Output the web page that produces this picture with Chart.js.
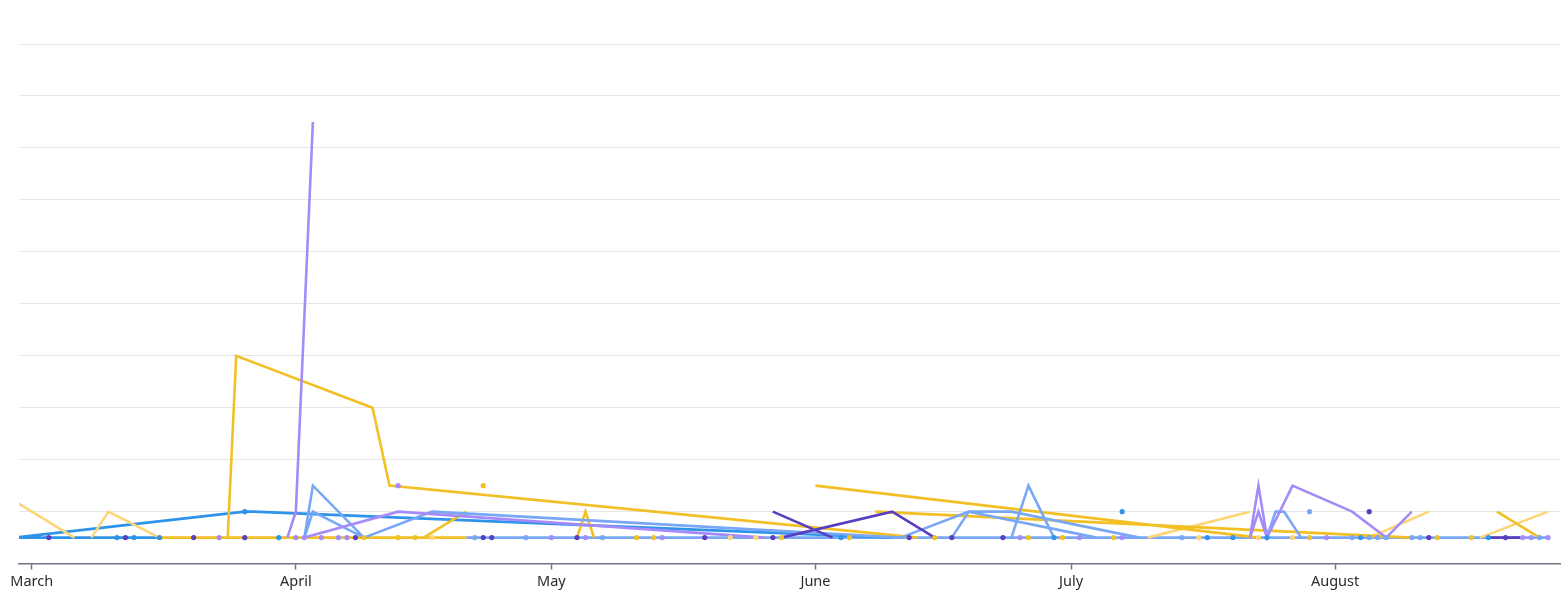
<!DOCTYPE html>
<html>
<head>
<meta charset="utf-8">
<script src="https://cdn.jsdelivr.net/npm/chart.js@4.4.0/dist/chart.umd.min.js"></script>
<style>
  html, body { margin: 0; padding: 0; background: #fff; }
  #wrap { width: 1568px; height: 595px; }
</style>
</head>
<body>
<div id="wrap"><canvas id="chart"></canvas></div>
<script>
// x = days counted from March 1
const monthStarts = [0, 31, 61, 92, 122, 153];
const monthNames = ['March', 'April', 'May', 'June', 'July', 'August'];

// line runs, a null value breaks the line
const amberDays   = [15, 23, 39, 51, 51,  23, 24, 40, 42, 104, 104,  46, 51, 51,  64, 65, 66, 66,  92, 144, 144,  99, 162, 162,  172, 177];
const amberValues = [0, 0, 0, 0, null,  0, 7, 5, 2, 0, null,  0, 1, null,  0, 1, 0, null,  2, 0, null,  1, 0, null,  1, 0];
const amberDotDays   = [53, 39, 43, 45, 71, 73, 88, 96, 106, 117, 121, 127, 150, 165, 169];
const amberDotValues = [2, 0, 0, 0, 0, 0, 0, 0, 0, 0, 0, 0, 0, 0, 0];

const lightAmberDays   = [-5, 5, 5,  7, 9, 15, 15,  131, 143, 143,  157, 164, 164,  170, 178];
const lightAmberValues = [2, 0, null,  0, 1, 0, null,  0, 1, null,  0, 1, null,  0, 1];
const lightAmberDotDays   = [47, 82, 85, 137, 144, 148];
const lightAmberDotValues = [0, 0, 0, 0, 0, 0];

const violetDays   = [87, 94, 94,  88, 101, 106, 106,  171, 173, 175];
const violetValues = [1, 0, null,  0, 1, 0, null,  0, 0, 0];
const violetDotDays   = [157, 2, 11, 19, 25, 38, 53, 54, 64, 79, 87, 103, 108, 114, 164, 173];
const violetDotValues = [1, 0, 0, 0, 0, 0, 0, 0, 0, 0, 0, 0, 0, 0, 0, 0];

const lavenderDays   = [30, 31, 33, 33,  32, 43, 86, 86,  143, 144, 145, 145,  143, 144, 145, 148, 155, 159, 162];
const lavenderValues = [0, 1, 16, null,  0, 1, 0, null,  0, 2, 0, null,  0, 1, 0, 2, 1, 0, 1];
const lavenderDotDays   = [43, 22, 31, 32, 34, 36, 37, 61, 65, 74, 116, 123, 128, 152, 175, 176, 178];
const lavenderDotValues = [2, 0, 0, 0, 0, 0, 0, 0, 0, 0, 0, 0, 0, 0, 0, 0, 0];

const skyDays   = [32, 33, 39, 39,  32, 33, 39, 47, 102, 102,  102, 110, 115, 130, 130,  108, 110, 125, 125,  115, 117, 120, 120,  145, 146, 147, 149];
const skyValues = [0, 2, 0, null,  0, 1, 0, 1, 0, null,  0, 1, 1, 0, null,  0, 1, 0, null,  0, 2, 0, null,  0, 1, 1, 0];
const skyBaseDays   = [51, 178];
const skyBaseValues = [0, 0];
const skyDotDays   = [150, 52, 58, 67, 135, 155, 157, 158, 159, 162, 163, 177];
const skyDotValues = [1, 0, 0, 0, 0, 0, 0, 0, 0, 0, 0, 0];

const blueDays   = [-2, 25, 26, 101, 101,  -2, 15];
const blueValues = [0, 1, 1, 0, null,  0, 0];
const blueDotDays   = [25, 128, 10, 12, 15, 29, 95, 120, 138, 141, 145, 156, 171];
const blueDotValues = [1, 1, 0, 0, 0, 0, 0, 0, 0, 0, 0, 0, 0];

const AMBER = '#f2bf24', LIGHT_AMBER = '#fcd577', VIOLET = '#5a3ebf',
      LAVENDER = '#a58af9', SKY = '#78a7f5', BLUE = '#2e93e9';

const pts = (days, values) => days.map((d, i) => ({ x: d, y: values[i] }));

const line = (days, values, color) => ({
  data: pts(days, values),
  borderColor: color,
  backgroundColor: color,
  borderWidth: 2.6,
  pointRadius: 0,
  tension: 0,
  spanGaps: false,
  fill: false
});

const dots = (days, values, color) => ({
  data: pts(days, values),
  showLine: false,
  backgroundColor: color,
  borderColor: color,
  pointRadius: 2.6,
  pointBorderWidth: 0
});

// first dataset ends up on top
const datasets = [
  dots(violetDotDays, violetDotValues, VIOLET),
  dots(lavenderDotDays, lavenderDotValues, LAVENDER),
  dots(skyDotDays, skyDotValues, SKY),
  dots(blueDotDays, blueDotValues, BLUE),
  dots(amberDotDays, amberDotValues, AMBER),
  dots(lightAmberDotDays, lightAmberDotValues, LIGHT_AMBER),
  line(violetDays, violetValues, VIOLET),
  line(lavenderDays, lavenderValues, LAVENDER),
  line(skyDays, skyValues, SKY),
  line(amberDays, amberValues, AMBER),
  line(lightAmberDays, lightAmberValues, LIGHT_AMBER),
  line(blueDays, blueValues, BLUE),
  line(skyBaseDays, skyBaseValues, SKY)
];

new Chart(document.getElementById('chart'), {
  type: 'line',
  data: { datasets },
  options: {
    responsive: true,
    maintainAspectRatio: false,
    animation: false,
    layout: { padding: { left: 19, right: 8, top: 44, bottom: 0 } },
    plugins: { legend: { display: false }, tooltip: { enabled: false } },
    scales: {
      x: {
        type: 'linear',
        min: -1.5,
        max: 179.4,
        afterBuildTicks: (axis) => {
          axis.ticks = monthStarts.map((v) => ({ value: v }));
        },
        ticks: {
          autoSkip: false,
          maxRotation: 0,
          padding: 4,
          color: '#2b2b2b',
          font: { family: 'Noto Sans', size: 14.5 },
          callback: (v) => monthNames[monthStarts.indexOf(v)]
        },
        grid: { drawOnChartArea: false, tickLength: 6, tickColor: '#6e7681', tickWidth: 1.5 },
        border: { color: '#6e7681', width: 1.5 }
      },
      y: {
        min: -1,
        max: 19,
        ticks: { display: false, stepSize: 2 },
        grid: { color: '#e6e6e6', drawTicks: false },
        border: { display: false }
      }
    }
  }
});
</script>
</body>
</html>
